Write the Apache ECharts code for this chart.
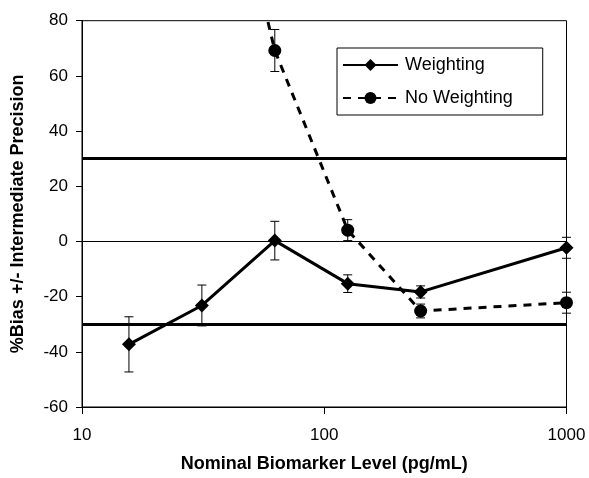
<!DOCTYPE html>
<html>
<head>
<meta charset="utf-8">
<script src="https://cdn.jsdelivr.net/npm/echarts@6/dist/echarts.min.js"></script>
<style>
html,body{margin:0;padding:0;background:#fff;}
#chart{width:589px;height:478px;}
</style>
</head>
<body>
<div id="chart"></div>
<script>
// Data
const levels = [15.625, 31.25, 62.5, 125, 250, 1000];
const weighting = [-37.3, -23.2, 0.3, -15.3, -18.3, -2.3];
const weightingPrecision = [10, 7.4, 7, 3.2, 2.2, 3.8];
const noWeightingLevels = [31.25, 62.5, 125, 250, 1000];
const noWeighting = [180, 69.2, 4.1, -25.2, -22.2];
const noWeightingPrecision = [null, 7.6, 3.8, 2.5, 3.8];
const limitLines = [30, -30];
const zeroLine = 0;
const xTicks = [10, 100, 1000];

const FONT = 'Liberation Sans, Arial, sans-serif';

function pairs(xs, ys) { return xs.map((x, i) => [x, ys[i]]); }
function errData(xs, ys, ps) {
  const out = [];
  xs.forEach((x, i) => { if (ps[i] != null) out.push([x, ys[i] - ps[i], ys[i] + ps[i]]); });
  return out;
}
function errRender(params, api) {
  const x = api.value(0);
  const lo = api.coord([x, api.value(1)]);
  const hi = api.coord([x, api.value(2)]);
  const cap = 4.5;
  const style = { stroke: '#000', lineWidth: 1 };
  return {
    type: 'group',
    children: [
      { type: 'line', shape: { x1: lo[0], y1: lo[1], x2: hi[0], y2: hi[1] }, style },
      { type: 'line', shape: { x1: lo[0] - cap, y1: lo[1], x2: lo[0] + cap, y2: lo[1] }, style },
      { type: 'line', shape: { x1: hi[0] - cap, y1: hi[1], x2: hi[0] + cap, y2: hi[1] }, style }
    ]
  };
}

const chart = echarts.init(document.getElementById('chart'), null, { renderer: 'canvas' });
chart.setOption({
  animation: false,
  backgroundColor: '#fff',
  textStyle: { fontFamily: FONT, color: '#000' },
  grid: { left: 82, right: 22.5, top: 20.7, bottom: 64.3, show: true, borderColor: '#000', borderWidth: 1, backgroundColor: 'transparent' },
  legend: {
    orient: 'vertical',
    left: 337, top: 48,
    data: ['Weighting', 'No Weighting'],
    itemWidth: 55, itemHeight: 15, itemGap: 15,
    padding: [8, 30, 8, 5],
    borderColor: '#000', borderWidth: 1,
    backgroundColor: '#fff',
    textStyle: { fontFamily: FONT, fontSize: 18, color: '#000', padding: [0, 0, 0, 2] }
  },
  xAxis: {
    type: 'log', logBase: 10, min: 10, max: 1000,
    name: 'Nominal Biomarker Level (pg/mL)',
    nameLocation: 'middle', nameGap: 48,
    nameTextStyle: { fontFamily: FONT, fontSize: 18, fontWeight: 'bold', color: '#000' },
    axisLine: { show: true, onZero: false, lineStyle: { color: '#000', width: 1 } },
    axisTick: { show: true, length: 7, lineStyle: { color: '#000' } },
    minorTick: { show: false },
    splitLine: { show: false },
    axisLabel: { fontFamily: FONT, fontSize: 17, color: '#000', margin: 20,
      formatter: v => (xTicks.indexOf(Math.round(v)) >= 0 ? String(Math.round(v)) : '') }
  },
  yAxis: {
    type: 'value', min: -60, max: 80, interval: 20,
    name: '%Bias +/- Intermediate Precision',
    nameLocation: 'middle', nameGap: 55,
    nameTextStyle: { fontFamily: FONT, fontSize: 18, fontWeight: 'bold', color: '#000' },
    axisLine: { show: true, lineStyle: { color: '#000', width: 1 } },
    axisTick: { show: true, length: 6, lineStyle: { color: '#000' } },
    splitLine: { show: false },
    axisLabel: { fontFamily: FONT, fontSize: 17, color: '#000', margin: 14 }
  },
  series: [
    {
      name: 'Weighting', type: 'line',
      data: pairs(levels, weighting),
      symbol: 'diamond', symbolSize: 14,
      itemStyle: { color: '#000' },
      lineStyle: { color: '#000', width: 3 },
      clip: true, z: 3,
      markLine: {
        silent: true, symbol: ['none', 'none'], label: { show: false },
        data: [
          { yAxis: limitLines[0], lineStyle: { color: '#000', width: 3, type: 'solid' } },
          { yAxis: limitLines[1], lineStyle: { color: '#000', width: 3, type: 'solid' } },
          { yAxis: zeroLine, lineStyle: { color: '#000', width: 1, type: 'solid' } }
        ]
      }
    },
    {
      name: 'No Weighting', type: 'line',
      data: pairs(noWeightingLevels, noWeighting),
      symbol: 'circle', symbolSize: 13,
      itemStyle: { color: '#000' },
      lineStyle: { color: '#000', width: 3, type: [8, 7] },
      clip: true, z: 3
    },
    {
      name: 'err-w', type: 'custom',
      data: errData(levels, weighting, weightingPrecision),
      renderItem: errRender,
      encode: { x: 0, y: [1, 2] }, z: 4, silent: true
    },
    {
      name: 'err-nw', type: 'custom',
      data: errData(noWeightingLevels, noWeighting, noWeightingPrecision),
      renderItem: errRender,
      encode: { x: 0, y: [1, 2] }, z: 4, silent: true
    }
  ]
});
</script>
</body>
</html>
